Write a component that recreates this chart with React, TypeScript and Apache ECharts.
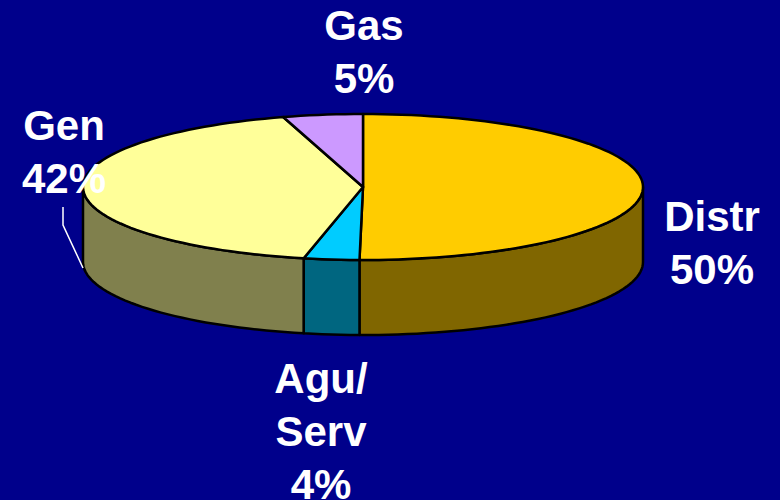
import React, { useEffect, useRef } from "react";
import * as echarts from "echarts";

const categories = ["Distr", "Agu/\nServ", "Gen", "Gas"];
const percentLabels = ["50%", "4%", "42%", "5%"];
// Slice shares (the printed labels are rounded and add up to 101).
const shares = [50.2, 3.2, 42, 4.6];
const topColors = ["#FFCC00", "#00CCFF", "#FFFF99", "#CC99FF"];
const sideColors = ["#806600", "#006680", "#80804D", "#66507F"];

const BG = "#00008B";
const CX = 363;
const CY = 187;
const RX = 280;
const RY = 73;
const DEPTH = 75;

const total = shares.reduce((a, b) => a + b, 0);
const sliceRange = (i: number): [number, number] => {
  const before = shares.slice(0, i).reduce((a, b) => a + b, 0);
  return [(before / total) * 360, ((before + shares[i]) / total) * 360];
};
const rim = (deg: number, dy = 0): number[] => {
  const r = (deg * Math.PI) / 180;
  return [CX + RX * Math.sin(r), CY - RY * Math.cos(r) + dy];
};
const arcPoints = (a: number, b: number, dy = 0): number[][] => {
  const pts: number[][] = [];
  const n = Math.max(2, Math.ceil((b - a) / 2));
  for (let k = 0; k <= n; k++) pts.push(rim(a + ((b - a) * k) / n, dy));
  return pts;
};

const renderWall = (params: any) => {
  const [a0, b0] = sliceRange(params.dataIndex);
  const a = Math.max(a0, 90);
  const b = Math.min(b0, 270);
  if (b <= a) return { type: "group", children: [] };
  const top = arcPoints(a, b);
  const bottom = arcPoints(a, b, DEPTH).reverse();
  return {
    type: "polygon",
    shape: { points: [...top, ...bottom] },
    style: {
      fill: sideColors[params.dataIndex],
      stroke: "#000",
      lineWidth: 2.5,
      lineJoin: "round",
    },
  };
};

const renderTop = (params: any) => {
  const [a, b] = sliceRange(params.dataIndex);
  return {
    type: "polygon",
    shape: { points: [[CX, CY], ...arcPoints(a, b)] },
    style: {
      fill: topColors[params.dataIndex],
      stroke: "#000",
      lineWidth: 2.5,
      lineJoin: "round",
    },
  };
};

const labelStyle = (text: string, x: number, y: number) => ({
  type: "text",
  x,
  y,
  z: 20,
  style: {
    text,
    fill: "#fff",
    font: "bold 42px 'Liberation Sans', Arial, sans-serif",
    lineHeight: 53,
    align: "center",
    verticalAlign: "middle",
  },
});

export default function App() {
  const ref = useRef<HTMLDivElement>(null);
  useEffect(() => {
    document.body.style.margin = "0";
    document.body.style.background = BG;
    const chart = echarts.init(ref.current!, undefined, { renderer: "svg" });
    const data = categories.map((name, i) => ({ name, value: shares[i] }));
    chart.setOption({
      animation: false,
      backgroundColor: BG,
      tooltip: { show: false },
      series: [
        { type: "custom", coordinateSystem: "none", renderItem: renderWall, data, z: 1, silent: true },
        { type: "custom", coordinateSystem: "none", renderItem: renderTop, data, z: 2, silent: true },
      ],
      graphic: [
        {
          type: "polyline",
          z: 10,
          shape: { points: [[63, 207], [63, 225], [83, 268]] },
          style: { stroke: "#fff", fill: "none", lineWidth: 1.5 },
        },
        labelStyle(`${categories[0]}\n${percentLabels[0]}`, 712, 243),
        labelStyle(`${categories[1]}\n${percentLabels[1]}`, 321, 431),
        labelStyle(`${categories[2]}\n${percentLabels[2]}`, 64, 152),
        labelStyle(`${categories[3]}\n${percentLabels[3]}`, 364, 52),
      ],
    });
    return () => chart.dispose();
  }, []);
  return <div ref={ref} style={{ width: 780, height: 500 }} />;
}
